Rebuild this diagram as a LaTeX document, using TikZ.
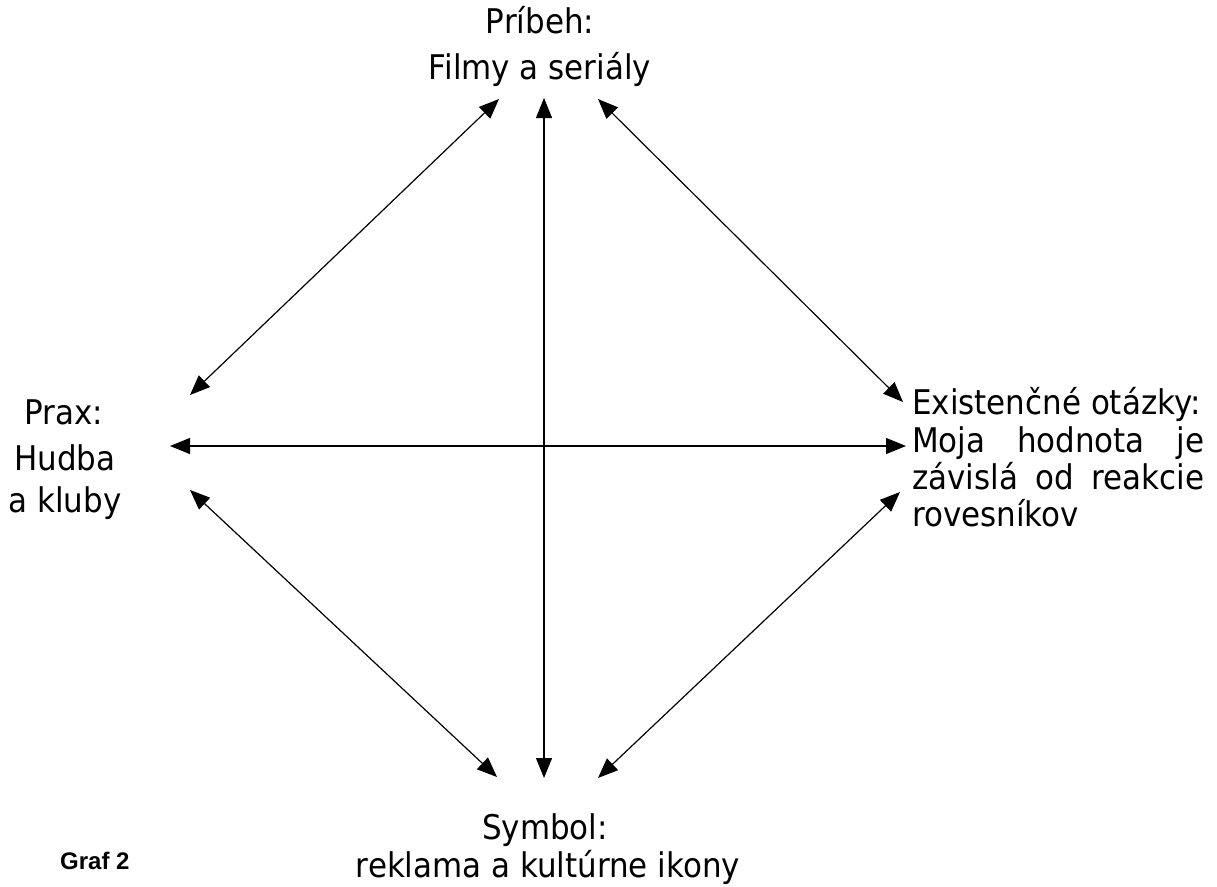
\documentclass[tikz,border=0pt]{standalone}
\usepackage{fontspec}
\setmainfont{DejaVu Sans}[FakeStretch=0.91]
\newfontfamily\graffont{Liberation Sans}
\usetikzlibrary{arrows.meta}
\begin{document}
\begin{tikzpicture}[x=1pt,y=-1pt,
  lbl/.style={inner sep=0pt, anchor=base, font=\fontsize{34}{40}\selectfont},
  lblw/.style={lbl, anchor=base west},
  conn/.style={{Triangle[length=20pt,width=16pt]}-{Triangle[length=20pt,width=16pt]}, line width=1.2pt}]
\useasboundingbox (0,0) rectangle (1217,886);
% top
\node[lbl] (t1) at (540,33) {Príbeh:};
\node[lbl] (t2) at (540,79) {Filmy a seriály};
% left
\node[lbl] (l1) at (64,424) {Prax:};
\node[lbl] (l2) at (65,470) {Hudba};
\node[lbl] (l3) at (65,512) {a kluby};
% right
\node[lblw] (r1) at (912,414) {Existenčné otázky:};
\node[lblw] (r2) at (912,452) {\hbox to 292pt{Moja\hfil hodnota\hfil je}};
\node[lblw] (r3) at (912,489) {\hbox to 292pt{závislá\hfil od\hfil reakcie}};
\node[lblw] (r4) at (912,526) {rovesníkov};
% bottom
\node[lbl] (b1) at (545,839) {Symbol:};
\node[lbl] (b2) at (548,877) {reklama a kultúrne ikony};
\node[inner sep=0pt, anchor=base west, font=\graffont\bfseries\fontsize{24}{28}\selectfont] (g) at (60,869) {Graf 2};
% arrow end points
\coordinate (vt) at (544,98);
\coordinate (vb) at (544,778);
\coordinate (hl) at (170,446);
\coordinate (hr) at (906,446);
\coordinate (tl1) at (499,99);
\coordinate (tl2) at (190,395);
\coordinate (tr1) at (598,99);
\coordinate (tr2) at (903,402);
\coordinate (bl1) at (190,490);
\coordinate (bl2) at (497,777);
\coordinate (br1) at (900,492);
\coordinate (br2) at (598,778);
\draw[conn] (vt) -- (vb);
\draw[conn] (hl) -- (hr);
\draw[conn] (tl1) -- (tl2);
\draw[conn] (tr1) -- (tr2);
\draw[conn] (bl1) -- (bl2);
\draw[conn] (br1) -- (br2);
\end{tikzpicture}
\end{document}
